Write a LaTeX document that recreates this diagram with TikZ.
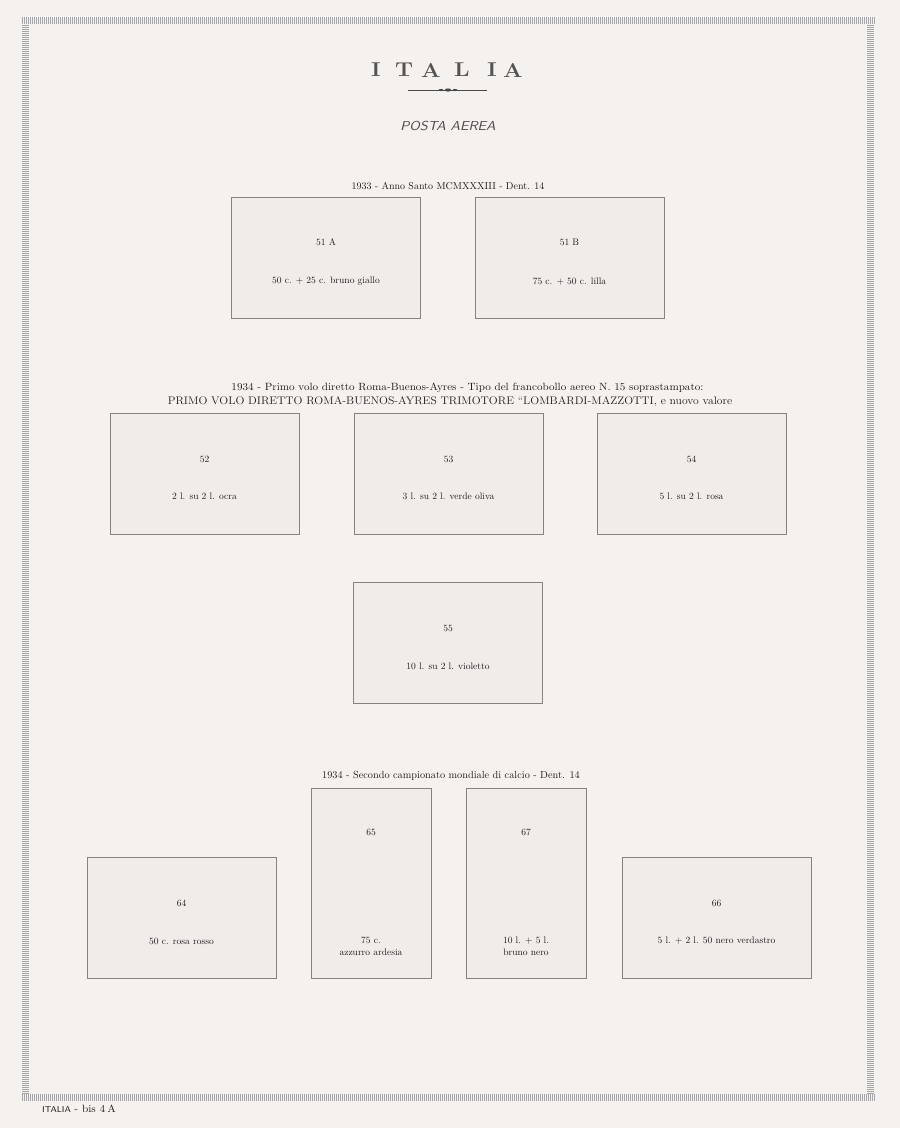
\documentclass[tikz,border=0pt]{standalone}
\usepackage{fontspec}
\usepackage{xcolor}
\usetikzlibrary{positioning,calc}

\definecolor{paper}{HTML}{F5F1EE}
\definecolor{stampfill}{HTML}{F1ECEA}
\definecolor{stampline}{HTML}{84837F}
\definecolor{ink}{HTML}{1E1B1A}
\definecolor{hatch}{HTML}{A6A6A8}

\tikzset{
  stamp/.style={draw=stampline, fill=stampfill, line width=0.9pt, inner sep=0pt,
    minimum width=189pt, minimum height=121pt},
  tallstamp/.style={stamp, minimum width=120pt, minimum height=190pt},
  heading/.style={text=ink, inner sep=0pt, font=\fontsize{10}{12}\selectfont},
  stamptext/.style={text=ink, inner sep=0pt, align=center, font=\fontsize{9.5}{11.5}\selectfont},
  titleletter/.style={text=ink!75, inner sep=0pt, xscale=1.15, font=\bfseries\fontsize{20}{24}\selectfont},
}

\begin{document}
\begin{tikzpicture}[x=1pt, y=-1pt]
    % Page
    \fill[paper] (0,0) rectangle (900,1128);

    % Hatched frame
    \foreach \x in {22,24,...,874} {
        \draw[hatch, line width=0.75pt] (\x,17) -- (\x,24);
        \draw[hatch, line width=0.75pt] (\x,1094) -- (\x,1101);
    }
    \foreach \y in {25,27,...,1093} {
        \draw[hatch, line width=0.75pt] (22,\y) -- (29,\y);
        \draw[hatch, line width=0.75pt] (867,\y) -- (874,\y);
    }

    % Title
    \foreach \ch/\x [count=\i] in {I/376,T/404,A/431,L/462,I/492,A/513} {
        \node[titleletter] (title\i) at (\x,70) {\ch};
    }
    \draw[ink!80, line width=0.6pt] (408,90) -- (487,90);
    \fill[ink!80] (448,90) ellipse (3.2pt and 1.6pt);
    \fill[ink!80] (441,90) ellipse (2.2pt and 1.1pt);
    \fill[ink!80] (455,90) ellipse (2.2pt and 1.1pt);
    \node[text=ink!80, inner sep=0pt, xscale=1.12, font=\sffamily\itshape\fontsize{13}{15}\selectfont\addfontfeature{LetterSpace=25}]
        (subtitle) at (448,126) {POSTA AEREA};

    % 1933 - Anno Santo
    \node[heading] (head1) at (448,186) {1933 - Anno Santo MCMXXXIII - Dent. 14};
    \node[stamp] (s51a) at (326,257.5) {};
    \node[stamp] (s51b) at (569.5,257.5) {};
    \node[stamptext] (n51a) at ([yshift=-46pt]s51a.north) {51 A};
    \node[stamptext] (d51a) at ([yshift=-85pt]s51a.north) {50 c. + 25 c. bruno giallo};
    \node[stamptext] (n51b) at ([yshift=-46pt]s51b.north) {51 B};
    \node[stamptext] (d51b) at ([yshift=-85pt]s51b.north) {75 c. + 50 c. lilla};

    % 1934 - Primo volo Roma-Buenos-Ayres
    \node[heading, xscale=1.06, font=\fontsize{10.5}{12}\selectfont] (head2) at (467.5,388)
        {1934 - Primo volo diretto Roma-Buenos-Ayres - Tipo del francobollo aereo N. 15 soprastampato:};
    \node[heading, xscale=1.06, font=\fontsize{11}{13}\selectfont] (head2b) at (450,402)
        {PRIMO VOLO DIRETTO ROMA-BUENOS-AYRES TRIMOTORE ``LOMBARDI-MAZZOTTI, e nuovo valore};
    \foreach \id/\x/\num/\txt in {s52/204.5/52/2 l. su 2 l. ocra,
                                   s53/448.5/53/3 l. su 2 l. verde oliva,
                                   s54/691.5/54/5 l. su 2 l. rosa} {
        \node[stamp] (\id) at (\x,474) {};
        \node[stamptext] (\id-num) at ([yshift=-46pt]\id.north) {\num};
        \node[stamptext] (\id-txt) at ([yshift=-83pt]\id.north) {\txt};
    }
    \node[stamp] (s55) at (448,643) {};
    \node[stamptext] (s55-num) at ([yshift=-46pt]s55.north) {55};
    \node[stamptext] (s55-txt) at ([yshift=-84pt]s55.north) {10 l. su 2 l. violetto};

    % 1934 - Campionato mondiale di calcio
    \node[heading, font=\fontsize{10.3}{12}\selectfont] (head3) at (451,776)
        {1934 - Secondo campionato mondiale di calcio - Dent. 14};
    \node[stamp] (s64) at (181.5,918) {};
    \node[stamp] (s66) at (716.5,918) {};
    \node[tallstamp] (s65) at (371,883) {};
    \node[tallstamp] (s67) at (526,883) {};
    \node[stamptext] (s64-num) at ([yshift=-46pt]s64.north) {64};
    \node[stamptext] (s64-txt) at ([yshift=-84pt]s64.north) {50 c. rosa rosso};
    \node[stamptext] (s66-num) at ([yshift=-46pt]s66.north) {66};
    \node[stamptext] (s66-txt) at ([yshift=-84pt]s66.north) {5 l. + 2 l. 50 nero verdastro};
    \node[stamptext] (s65-num) at ([yshift=-45pt]s65.north) {65};
    \node[stamptext] (s65-txt) at ([yshift=32pt]s65.south) {75 c.\\azzurro ardesia};
    \node[stamptext] (s67-num) at ([yshift=-45pt]s67.north) {67};
    \node[stamptext] (s67-txt) at ([yshift=32pt]s67.south) {10 l. + 5 l.\\bruno nero};

    % Footer
    \node[text=ink, inner sep=0pt, anchor=base west, xscale=1.08] (footer) at (42,1112)
        {{\sffamily\fontsize{8.5}{10}\selectfont\addfontfeature{LetterSpace=32}ITALIA}\,\,{\fontsize{10.5}{12}\selectfont - bis 4\,A}};
\end{tikzpicture}
\end{document}
